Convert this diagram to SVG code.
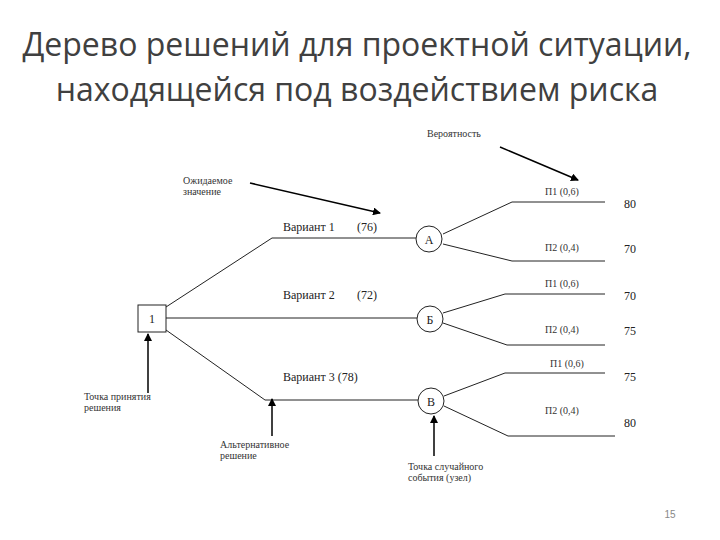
<svg xmlns="http://www.w3.org/2000/svg" width="720" height="540" viewBox="0 0 720 540">
<defs>
<marker id="ah" markerWidth="8" markerHeight="8" refX="7" refY="4" orient="auto" markerUnits="userSpaceOnUse"><path d="M0,0 L8,4 L0,8 z" fill="#000"/></marker>
<style>
.t{font-family:'Liberation Serif','DejaVu Serif',serif;font-size:12px;fill:#222}
.s{font-family:'Liberation Serif','DejaVu Serif',serif;font-size:10px;fill:#333}
.l{stroke:#222;stroke-width:1;fill:none}
.a{stroke:#000;stroke-width:1.5;fill:none;marker-end:url(#ah)}
.title{font-family:'Open Sans','Liberation Sans',sans-serif;font-size:32px;fill:#404040;text-anchor:middle}
</style>
</defs>
<rect width="720" height="540" fill="#fff"/>
<text class="title" x="357" y="56">Дерево решений для проектной ситуации,</text>
<text class="title" x="357" y="101">находящейся под воздействием риска</text>
<g id="connectors">
<path class="l" d="M166,307 L272,238 L416,238"/>
<path class="l" d="M166,318 L417,318"/>
<path class="l" d="M166,330 L265,400 L418,400"/>
<path class="l" d="M443,234 L512,202 L605,202 M443,244 L512,261 L605,261"/>
<path class="l" d="M443,313 L505,294 L605,294 M443,323 L507,345 L605,345"/>
<path class="l" d="M444,396 L505,373 L605,373 M444,406 L508,436 L615,436"/>
<path class="a" d="M250,183 L380,213"/>
<path class="a" d="M500,147 L578,180"/>
<path class="a" d="M148,393 L148,334"/>
<path class="a" d="M272,436 L272,399"/>
<path class="a" d="M434,456 L434,416"/>
</g>
<g id="n1"><rect x="138" y="305" width="28" height="27" fill="#fff" stroke="#222"/><text class="t" x="152" y="323" text-anchor="middle">1</text></g>
<g id="nA"><circle cx="429" cy="239" r="13" fill="#fff" stroke="#222"/><text class="t" x="429" y="244" text-anchor="middle" font-size="14">А</text></g>
<g id="nB"><circle cx="430" cy="319" r="13" fill="#fff" stroke="#222"/><text class="t" x="430" y="324" text-anchor="middle" font-size="14">Б</text></g>
<g id="nV"><circle cx="431" cy="401" r="13" fill="#fff" stroke="#222"/><text class="t" x="431" y="406" text-anchor="middle" font-size="14">В</text></g>
<g id="labels">
<text class="t" x="283" y="231">Вариант 1<tspan x="357">(76)</tspan></text>
<text class="t" x="283" y="299">Вариант 2<tspan x="357">(72)</tspan></text>
<text class="t" x="283" y="381">Вариант 3 (78)</text>
<text class="s" x="545" y="195">П1 (0,6)</text>
<text class="s" x="545" y="251">П2 (0,4)</text>
<text class="s" x="545" y="287">П1 (0,6)</text>
<text class="s" x="545" y="333">П2 (0,4)</text>
<text class="s" x="550" y="367">П1 (0,6)</text>
<text class="s" x="545" y="414">П2 (0,4)</text>
<text class="t" x="624" y="208">80</text>
<text class="t" x="624" y="253">70</text>
<text class="t" x="624" y="300">70</text>
<text class="t" x="624" y="335">75</text>
<text class="t" x="624" y="381">75</text>
<text class="t" x="624" y="427">80</text>
<text class="s" x="427" y="137">Вероятность</text>
<text class="s" x="183" y="184">Ожидаемое</text>
<text class="s" x="183" y="195">значение</text>
<text class="s" x="84" y="400">Точка принятия</text>
<text class="s" x="84" y="411">решения</text>
<text class="s" x="220" y="448">Альтернативное</text>
<text class="s" x="220" y="459">решение</text>
<text class="s" x="408" y="470">Точка случайного</text>
<text class="s" x="408" y="481">события (узел)</text>
<text x="670" y="518" font-family="Liberation Sans,sans-serif" font-size="10" fill="#888" text-anchor="middle">15</text>
</g>
</svg>
